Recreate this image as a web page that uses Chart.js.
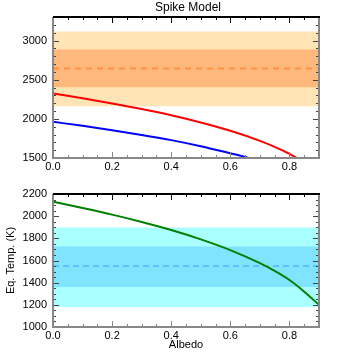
<!DOCTYPE html>
<html>
<head>
<meta charset="utf-8">
<script src="https://cdn.jsdelivr.net/npm/chart.js@4.4.1/dist/chart.umd.min.js"></script>
<style>
  body { margin: 0; background: #fff; }
  canvas { position: absolute; left: 0; }
</style>
</head>
<body>
<canvas id="spikeChart" width="354" height="177" style="top:0"></canvas>
<canvas id="eqChart" width="354" height="177" style="top:177px"></canvas>
<script>
// top panel: spike model curves
const albedoRed = [0, 0.1, 0.2, 0.3, 0.4, 0.5, 0.6, 0.7, 0.75, 0.8, 0.85];
const tempRed = [2323, 2263, 2197, 2125, 2045, 1953, 1847, 1719, 1643, 1554, 1443];
const albedoBlue = [0, 0.1, 0.2, 0.3, 0.4, 0.5, 0.6, 0.65, 0.7];
const tempBlue = [1962, 1911, 1855, 1795, 1728, 1650, 1560, 1513, 1452];
const spikeOuterBand = [2161, 3114];
const spikeInnerBand = [2402, 2885];
const spikeDash = 2644;

// bottom panel: equilibrium temperature
const albedoGreen = [0, 0.1, 0.2, 0.3, 0.4, 0.5, 0.6, 0.7, 0.75, 0.8, 0.85, 0.9];
const tempGreen = [2130, 2074, 2014, 1948, 1875, 1791, 1694, 1576, 1506, 1424, 1319, 1200];
const eqOuterBand = [1180, 1898];
const eqInnerBand = [1362, 1726];
const eqDash = 1550;

const albedoRange = [0, 0.9];
const xTicks = [0, 0.2, 0.4, 0.6, 0.8];
const spikeTicks = [1500, 2000, 2500, 3000];
const eqTicks = [1000, 1200, 1400, 1600, 1800, 2000, 2200];

Chart.defaults.font.family = "'Liberation Sans', Arial, sans-serif";
Chart.defaults.font.size = 11;
Chart.defaults.color = "#000";

const toPoints = (xs, ys) => xs.map((x, i) => ({ x: x, y: ys[i] }));
const flat = (v) => albedoRange.map(x => ({ x: x, y: v }));

// inward ticks on all four sides + frame
const frameTicks = {
    id: "frameTicks",
    afterDraw(chart, args, opts) {
        const { ctx, chartArea: a, scales } = chart;
        const x = scales.x, y = scales.y;
        ctx.save();
        const steps = (scale, minor, major, fn) => {
            const n = Math.round((scale.max - scale.min) / minor);
            for (let i = 0; i <= n; i++) {
                const v = scale.min + i * minor;
                const r = v / major;
                fn(Math.round(scale.getPixelForValue(v)) + 0.5, Math.abs(r - Math.round(r)) < 1e-6);
            }
        };
        ctx.lineWidth = 1;
        steps(x, opts.xMinor, opts.xMajor, (px, big) => {
            const len = big ? 6 : 3;
            ctx.strokeStyle = "#888";
            ctx.beginPath(); ctx.moveTo(px, a.bottom); ctx.lineTo(px, a.bottom - len); ctx.stroke();
            ctx.strokeStyle = "#000";
            ctx.beginPath(); ctx.moveTo(px, a.top); ctx.lineTo(px, a.top + len); ctx.stroke();
        });
        steps(y, opts.yMinor, opts.yMajor, (py, big) => {
            const len = big ? 6 : 3;
            ctx.strokeStyle = "#444";
            ctx.beginPath(); ctx.moveTo(a.left, py); ctx.lineTo(a.left + len, py); ctx.stroke();
            ctx.beginPath(); ctx.moveTo(a.right, py); ctx.lineTo(a.right - len, py); ctx.stroke();
        });
        // frame
        ctx.lineWidth = 2;
        ctx.strokeStyle = "#888";
        ctx.beginPath();
        ctx.moveTo(a.right, a.top); ctx.lineTo(a.right, a.bottom);
        ctx.lineTo(a.left, a.bottom); ctx.lineTo(a.left, a.top);
        ctx.stroke();
        ctx.strokeStyle = "#000";
        ctx.beginPath(); ctx.moveTo(a.left, a.top); ctx.lineTo(a.right + 1, a.top); ctx.stroke();
        if (opts.title) {
            ctx.fillStyle = "#000";
            ctx.font = "12px 'Liberation Sans', Arial, sans-serif";
            ctx.textAlign = "center";
            ctx.textBaseline = "middle";
            ctx.fillText(opts.title, (a.left + a.right) / 2 + 2, 8);
        }
        ctx.restore();
    }
};

const keepTicks = (list) => (scale) => {
    scale.ticks = list.map(v => ({ value: v }));
};

function bandSets(outer, inner, dash, cOuter, cInner, cDash, dashWidth, dashPattern) {
    return [
        { data: flat(outer[1]), fill: { value: outer[0] }, backgroundColor: cOuter, borderWidth: 0, pointRadius: 0, order: 5 },
        { data: flat(inner[1]), fill: { value: inner[0] }, backgroundColor: cInner, borderWidth: 0, pointRadius: 0, order: 4 },
        { data: flat(dash), borderColor: cDash, borderWidth: dashWidth, borderDash: dashPattern, pointRadius: 0, fill: false, order: 3 }
    ];
}

function makeOptions(yMin, yMax, yTicks, minorY, majorY, extra) {
    return {
        responsive: false,
        animation: false,
        devicePixelRatio: 1,
        layout: { padding: { top: 17, right: 35, left: 0, bottom: 0 } },
        plugins: {
            legend: { display: false },
            tooltip: { enabled: false },
            frameTicks: { xMinor: 0.05, xMajor: 0.2, yMinor: minorY, yMajor: majorY, title: extra.title }
        },
        scales: {
            x: {
                type: "linear", min: albedoRange[0], max: albedoRange[1],
                grid: { display: false, drawTicks: false }, border: { display: false },
                afterBuildTicks: keepTicks(xTicks),
                afterFit: (s) => { s.height = extra.xHeight; },
                ticks: { padding: 2, maxRotation: 0, color: "#000", callback: (v) => v.toFixed(1) },
                title: extra.xTitle ? { display: true, text: extra.xTitle, color: "#000", padding: { top: 0, bottom: 2 } } : { display: false }
            },
            y: {
                min: yMin, max: yMax,
                grid: { display: false, drawTicks: false }, border: { display: false },
                afterBuildTicks: keepTicks(yTicks),
                afterFit: (s) => { s.width = 53; },
                ticks: { padding: 6, color: "#000", callback: (v) => String(v) },
                title: extra.yTitle ? { display: true, text: extra.yTitle, color: "#000", padding: { top: 4, bottom: 0 } } : { display: false }
            }
        }
    };
}

new Chart(document.getElementById("spikeChart"), {
    type: "line",
    data: {
        datasets: [
            { data: toPoints(albedoRed, tempRed), borderColor: "#ff0000", borderWidth: 2, pointRadius: 0, cubicInterpolationMode: "monotone", fill: false, order: 1 },
            { data: toPoints(albedoBlue, tempBlue), borderColor: "#0000ff", borderWidth: 2, pointRadius: 0, cubicInterpolationMode: "monotone", fill: false, order: 1 }
        ].concat(bandSets(spikeOuterBand, spikeInnerBand, spikeDash, "#ffe4b5", "#ffb87c", "#ff9040", 2, [6, 5]))
    },
    options: makeOptions(1500, 3300, spikeTicks, 100, 500, { xHeight: 19, title: "Spike Model" }),
    plugins: [frameTicks]
});

new Chart(document.getElementById("eqChart"), {
    type: "line",
    data: {
        datasets: [
            { data: toPoints(albedoGreen, tempGreen), borderColor: "#008000", borderWidth: 2, pointRadius: 0, cubicInterpolationMode: "monotone", fill: false, order: 1 }
        ].concat(bandSets(eqOuterBand, eqInnerBand, eqDash, "#aaffff", "#80e4ff", "#3a9aff", 1, [6, 4]))
    },
    options: makeOptions(1000, 2200, eqTicks, 50, 200, { xHeight: 27, xTitle: "Albedo", yTitle: "Eq. Temp. (K)" }),
    plugins: [frameTicks]
});
</script>
</body>
</html>
